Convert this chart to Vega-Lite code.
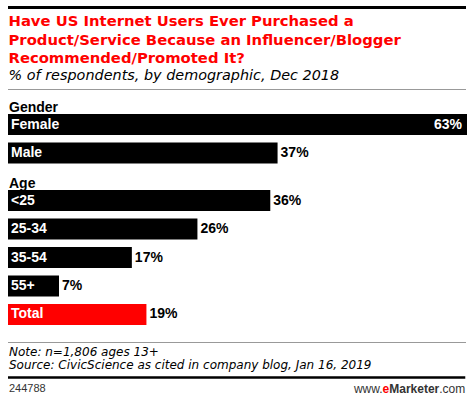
{
  "$schema": "https://vega.github.io/schema/vega-lite/v6.json",
  "background": "white",
  "padding": {"left": 6, "top": 6, "right": 5, "bottom": 0},
  "spacing": 0,
  "config": {
    "view": {"stroke": null},
    "font": "Liberation Sans",
    "title": {"anchor": "start", "color": "#000"}
  },
  "datasets": {
    "bars": [
      {"group": "Gender", "label": "Female", "value": 63},
      {"group": "Gender", "label": "Male", "value": 37},
      {"group": "Age", "label": "<25", "value": 36},
      {"group": "Age", "label": "25-34", "value": 26},
      {"group": "Age", "label": "35-54", "value": 17},
      {"group": "Age", "label": "55+", "value": 7},
      {"group": "Total", "label": "Total", "value": 19}
    ],
    "one": [{"id": 1}]
  },
  "vconcat": [
    {
      "width": 458, "height": 3,
      "view": {"fill": "#000", "stroke": null},
      "data": {"name": "one"},
      "encoding": {
        "x": {"datum": 0, "type": "quantitative", "scale": {"domain": [0, 62.9], "nice": false}, "axis": null}
      },
      "layer": [
        {"mark": {"type": "rule", "color": "#000", "strokeWidth": 3}, "encoding": {"x2": {"datum": 62.9}}},
        {"mark": {"type": "text", "text": "", "fontSize": 1}, "encoding": {}}
      ]
    },
    {
      "width": 458, "height": 4,
      "data": {"name": "one"},
      "mark": {"type": "text", "text": "", "fontSize": 1},
      "encoding": {}
    },
    {
      "width": 458, "height": 1,
      "view": {"fill": "#999", "stroke": null},
      "title": {
        "text": ["Have US Internet Users Ever Purchased a", "Product/Service Because an Influencer/Blogger", "Recommended/Promoted It?"],
        "subtitle": "% of respondents, by demographic, Dec 2018",
        "orient": "top", "anchor": "start",
        "font": "DejaVu Sans", "fontSize": 14.8, "fontWeight": "bold", "color": "#ff0000", "lineHeight": 18.7,
        "subtitleFont": "DejaVu Sans", "subtitleFontStyle": "italic", "subtitleFontSize": 14.4, "subtitleColor": "#000",
        "subtitlePadding": 3, "offset": 6, "dx": 1
      },
      "data": {"name": "one"},
      "encoding": {
        "x": {"datum": 0, "type": "quantitative", "scale": {"domain": [0, 62.9], "nice": false}, "axis": null}
      },
      "layer": [
        {"mark": {"type": "rule", "color": "#999", "strokeWidth": 1}, "encoding": {"x2": {"datum": 62.9}}},
        {"mark": {"type": "text", "text": "", "fontSize": 1}, "encoding": {}}
      ]
    },
    {
      "width": 458, "height": 10,
      "data": {"name": "one"},
      "mark": {"type": "text", "text": "", "fontSize": 1},
      "encoding": {}
    },
    {
      "width": 459, "height": 62,
      "title": {"text": "Gender", "anchor": "start", "fontSize": 14, "fontWeight": "bold", "color": "#000", "offset": -0.5, "dx": 1},
      "data": {"name": "bars"},
      "transform": [{"filter": "datum.group === 'Gender'"}],
      "encoding": {
        "y": {"field": "label", "type": "nominal", "sort": null, "scale": {"paddingInner": 0.263, "paddingOuter": 0.219, "align": 0}, "axis": null}
      },
      "layer": [
        {
          "mark": {"type": "bar"},
          "encoding": {
            "x": {"field": "value", "type": "quantitative", "scale": {"domain": [0, 63], "nice": false}, "axis": null},
            "color": {"condition": {"test": "datum.label === 'Total'", "value": "#ff0000"}, "value": "#000"}
          }
        },
        {
          "mark": {"type": "text", "align": "left", "baseline": "middle", "dx": 3, "color": "#fff", "fontWeight": "bold", "fontSize": 14},
          "encoding": {"x": {"datum": 0, "type": "quantitative"}, "text": {"field": "label"}}
        },
        {
          "transform": [{"filter": "datum.value < 50"}],
          "mark": {"type": "text", "align": "left", "baseline": "middle", "dx": 3, "color": "#000", "fontWeight": "bold", "fontSize": 14, "text": {"expr": "datum.value + '%'"}},
          "encoding": {"x": {"field": "value", "type": "quantitative"}}
        },
        {
          "transform": [{"filter": "datum.value >= 50"}],
          "mark": {"type": "text", "align": "right", "baseline": "middle", "dx": -5, "color": "#fff", "fontWeight": "bold", "fontSize": 14, "text": {"expr": "datum.value + '%'"}},
          "encoding": {"x": {"field": "value", "type": "quantitative"}}
        }
      ]
    },
    {
      "width": 459, "height": 135,
      "title": {"text": "Age", "anchor": "start", "fontSize": 14, "fontWeight": "bold", "color": "#000", "offset": -0.5, "dx": 1},
      "data": {"name": "bars"},
      "transform": [{"filter": "datum.group !== 'Gender'"}],
      "encoding": {
        "y": {"field": "label", "type": "nominal", "sort": null, "scale": {"paddingInner": 0.263, "paddingOuter": 0}, "axis": null}
      },
      "layer": [
        {
          "mark": {"type": "bar"},
          "encoding": {
            "x": {"field": "value", "type": "quantitative", "scale": {"domain": [0, 63], "nice": false}, "axis": null},
            "color": {"condition": {"test": "datum.label === 'Total'", "value": "#ff0000"}, "value": "#000"}
          }
        },
        {
          "mark": {"type": "text", "align": "left", "baseline": "middle", "dx": 3, "color": "#fff", "fontWeight": "bold", "fontSize": 14},
          "encoding": {"x": {"datum": 0, "type": "quantitative"}, "text": {"field": "label"}}
        },
        {
          "transform": [{"filter": "datum.value < 50"}],
          "mark": {"type": "text", "align": "left", "baseline": "middle", "dx": 3, "color": "#000", "fontWeight": "bold", "fontSize": 14, "text": {"expr": "datum.value + '%'"}},
          "encoding": {"x": {"field": "value", "type": "quantitative"}}
        }
      ]
    },
    {
      "width": 458, "height": 16,
      "data": {"name": "one"},
      "mark": {"type": "text", "text": "", "fontSize": 1},
      "encoding": {}
    },
    {
      "width": 458, "height": 1,
      "view": {"fill": "#999", "stroke": null},
      "data": {"name": "one"},
      "encoding": {
        "x": {"datum": 0, "type": "quantitative", "scale": {"domain": [0, 62.9], "nice": false}, "axis": null}
      },
      "layer": [
        {"mark": {"type": "rule", "color": "#999", "strokeWidth": 1}, "encoding": {"x2": {"datum": 62.9}}},
        {"mark": {"type": "text", "text": "", "fontSize": 1}, "encoding": {}}
      ]
    },
    {
      "width": 458, "height": 3,
      "data": {"name": "one"},
      "mark": {"type": "text", "text": "", "fontSize": 1},
      "encoding": {}
    },
    {
      "width": 458, "height": 0.5,
      "title": {
        "text": ["Note: n=1,806 ages 13+", "Source: CivicScience as cited in company blog, Jan 16, 2019"],
        "orient": "top", "anchor": "start",
        "font": "DejaVu Sans", "fontStyle": "italic", "fontWeight": "normal", "fontSize": 12, "color": "#000", "lineHeight": 13, "offset": 2, "dx": 1
      },
      "data": {"name": "one"},
      "mark": {"type": "text", "text": "", "fontSize": 1},
      "encoding": {}
    },
    {
      "width": 458, "height": 16,
      "data": {"name": "one"},
      "encoding": {
        "x": {"datum": 0, "type": "quantitative", "scale": {"domain": [0, 63], "nice": false}, "axis": null}
      },
      "layer": [
        {
          "mark": {"type": "rule", "color": "#000", "strokeWidth": 2.5, "yOffset": -6.5},
          "encoding": {"x2": {"datum": 62.9}}
        },
        {
          "mark": {"type": "text", "align": "left", "baseline": "middle", "dx": 1, "dy": 4.5, "fontSize": 11, "color": "#333", "text": "244788"},
          "encoding": {}
        },
        {
          "mark": {"type": "text", "align": "right", "baseline": "middle", "dy": 4.5, "fontSize": 12, "color": "#333", "text": ".com"},
          "encoding": {"x": {"datum": 62.9, "type": "quantitative"}}
        },
        {
          "mark": {"type": "text", "align": "right", "baseline": "middle", "dx": -26, "dy": 4.5, "fontSize": 12, "fontWeight": "bold", "color": "#333", "text": "Marketer"},
          "encoding": {"x": {"datum": 62.9, "type": "quantitative"}}
        },
        {
          "mark": {"type": "text", "align": "right", "baseline": "middle", "dx": -76, "dy": 4.5, "fontSize": 12, "fontWeight": "bold", "color": "#ff0000", "text": "e"},
          "encoding": {"x": {"datum": 62.9, "type": "quantitative"}}
        },
        {
          "mark": {"type": "text", "align": "right", "baseline": "middle", "dx": -82.7, "dy": 4.5, "fontSize": 12, "color": "#333", "text": "www."},
          "encoding": {"x": {"datum": 62.9, "type": "quantitative"}}
        }
      ]
    }
  ]
}
